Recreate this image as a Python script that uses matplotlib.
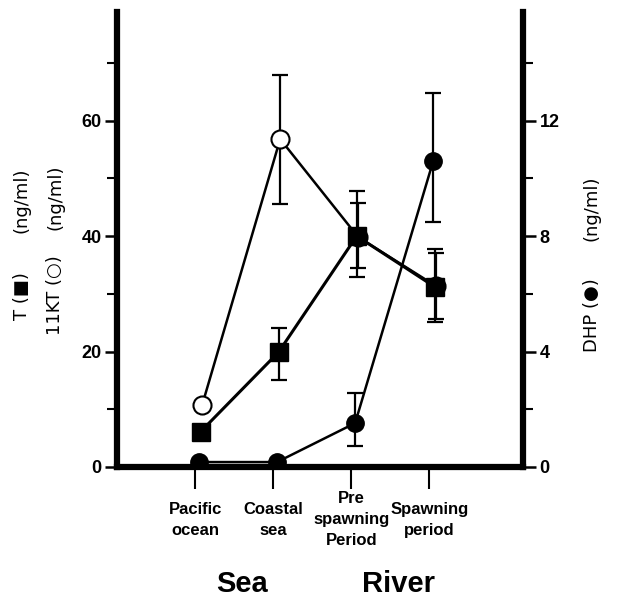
import matplotlib
matplotlib.use("Agg")
import matplotlib.pyplot as plt
import numpy as np

categories = ["Pacific\nocean", "Coastal\nsea", "Pre\nspawning\nPeriod", "Spawning\nperiod"]
x_pos = [1, 2, 3, 4]

T_vals = [6.1, 19.9, 40.0, 31.2]
T_err_lo = [0.0, 4.8, 7.1, 6.1]
T_err_hi = [0.0, 4.2, 7.8, 6.5]

KT_vals = [10.7, 56.8, 39.8, 31.3]
KT_err_lo = [0.0, 11.3, 5.3, 5.7]
KT_err_hi = [0.0, 11.1, 5.9, 5.7]

DHP_vals = [0.17, 0.17, 1.52, 10.6]
DHP_err_lo = [0.0, 0.0, 0.8, 2.1]
DHP_err_hi = [0.0, 0.0, 1.05, 2.35]

left_ticks = [0, 20, 40, 60]
right_ticks = [0, 4, 8, 12]

plt.rcParams['font.family'] = ['Liberation Sans', 'DejaVu Sans']

W, H = 618, 597
fig = plt.figure(figsize=(W / 100, H / 100), dpi=100)
ax = fig.add_axes([0.1893, 0.2178, 0.657, 0.762])
ax2 = ax.twinx()

xs = np.array(x_pos, dtype=float)
dT, dK, dD = 0.07, 0.09, 0.05
cap = 6

# 11KT open circles
ax.errorbar(xs + dK, KT_vals, yerr=[KT_err_lo, KT_err_hi], fmt='none', ecolor='black',
            elinewidth=1.6, capsize=cap, capthick=1.6, zorder=2)
ax.plot(xs + dK, KT_vals, '-', color='black', lw=1.8, zorder=3)
ax.plot(xs + dK, KT_vals, 'o', mfc='white', mec='black', mew=1.5, ms=13, zorder=4)

# T squares
ax.errorbar(xs + dT, T_vals, yerr=[T_err_lo, T_err_hi], fmt='none', ecolor='black',
            elinewidth=1.6, capsize=cap, capthick=1.6, zorder=2)
ax.plot(xs + dT, T_vals, 's-', color='black', lw=2.2, ms=13, zorder=5)

# DHP filled circles
ax2.errorbar(xs + dD, DHP_vals, yerr=[DHP_err_lo, DHP_err_hi], fmt='none', ecolor='black',
             elinewidth=1.6, capsize=cap, capthick=1.6, zorder=2)
ax2.plot(xs + dD, DHP_vals, 'o-', color='black', lw=1.8, ms=12.5, zorder=4)

ax.set_xlim(0, 5.2)
ax.set_ylim(0, 78.8)
ax2.set_ylim(0, 78.8 / 5)

for s in ['top', 'right']:
    ax.spines[s].set_visible(False)
ax.spines['left'].set_linewidth(4.5)
ax.spines['bottom'].set_linewidth(4.5)
for s in ['top', 'left', 'bottom']:
    ax2.spines[s].set_visible(False)
ax2.spines['right'].set_linewidth(4.5)

ax.set_yticks(left_ticks)
ax.set_yticks([10, 30, 50, 70], minor=True)
ax.set_yticklabels([str(v) for v in left_ticks], fontsize=13, fontweight='bold')
ax.tick_params(axis='y', which='major', direction='out', length=9, width=1.8, pad=2)
ax.tick_params(axis='y', which='minor', direction='out', length=7, width=1.5)

ax2.set_yticks(right_ticks)
ax2.set_yticks([2, 6, 10, 14], minor=True)
ax2.set_yticklabels([str(v) for v in right_ticks], fontsize=13, fontweight='bold')
ax2.tick_params(axis='y', which='major', direction='out', length=9, width=1.8, pad=3)
ax2.tick_params(axis='y', which='minor', direction='out', length=7, width=1.5)

ax.set_xticks(x_pos)
ax.set_xticklabels(categories, fontsize=12, fontweight='bold', linespacing=1.5, va='center')
ax.tick_params(axis='x', direction='out', length=16, width=1.5, pad=22)


def vlabel(px, py, s):
    fig.text(px / W, 1 - py / H, s, rotation=90, ha='center', va='center',
             fontsize=13, fontfamily='DejaVu Sans')


vlabel(22, 296, "T (\u25A0)")
vlabel(22, 200, "(ng/ml)")
vlabel(55, 295, "11KT (\u25CB)")
vlabel(55, 197, "(ng/ml)")
vlabel(592, 315, "DHP (\u25CF)")
vlabel(592, 208, "(ng/ml)")

fig.text(0.392, 0.008, "Sea", ha='center', va='baseline', fontsize=21, fontweight='bold')
fig.text(0.645, 0.008, "River", ha='center', va='baseline', fontsize=21, fontweight='bold')

fig.savefig("out.png", dpi=100)
